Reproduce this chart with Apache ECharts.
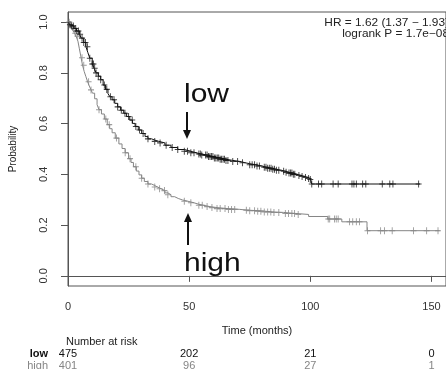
<!DOCTYPE html>
<html>
<head>
<meta charset="utf-8">
<script src="https://cdn.jsdelivr.net/npm/echarts@6/dist/echarts.min.js"></script>
<style>
html,body{margin:0;padding:0;background:#fff;}
#c{width:446px;height:369px;}
</style>
</head>
<body>
<div id="c"></div>
<script>
// ---- data ----
const lowTimes = [0,0.7,1.5,2.5,3.5,4.7,5.5,6.5,7.4,8.2,9,10,10.8,11.6,12.5,13.5,14.5,15.5,16.5,17.3,18.2,19.3,20.5,21.7,23,24.2,25.5,26.6,27.7,29,30.4,31.8,33,34.5,35.8,37.5,40,42.5,45.3,48,50.7,53,55,57.5,60.1,62.5,65,68,70.9,73,75,77.5,80,82,84.4,86,88,90,91.2,93,94.5,96,97.5,99,100,100.6,145.3];
const lowSurv  = [1.0,0.99,0.985,0.975,0.965,0.952,0.937,0.92,0.903,0.88,0.858,0.835,0.818,0.80,0.787,0.773,0.752,0.735,0.718,0.706,0.694,0.68,0.666,0.653,0.641,0.628,0.614,0.601,0.589,0.575,0.561,0.549,0.540,0.535,0.530,0.524,0.515,0.506,0.498,0.491,0.485,0.480,0.476,0.470,0.465,0.460,0.455,0.451,0.446,0.442,0.438,0.433,0.428,0.424,0.420,0.416,0.412,0.408,0.405,0.400,0.396,0.392,0.388,0.384,0.380,0.362,0.362];
const highTimes = [0,0.7,1.5,2.2,2.7,3.3,4.1,4.7,5.4,6,6.7,7.4,8.1,8.8,9.5,10.1,11,12,12.8,13.8,15,16.2,17.2,18.2,19.5,21,22.3,23.6,25,26,27,28.2,29.3,30.4,31.5,33,34.5,35.8,37,38.5,40,41.2,42.5,44,45.5,47.3,49.5,52,54,56,58.5,61.5,66,70.9,74,78,81,84.4,89,93.9,99.3,107.2,113,123.4,153.4];
const highSurv  = [1.0,0.99,0.978,0.965,0.956,0.945,0.925,0.895,0.86,0.83,0.805,0.785,0.765,0.748,0.733,0.72,0.698,0.675,0.655,0.638,0.618,0.596,0.58,0.564,0.543,0.52,0.502,0.485,0.462,0.447,0.43,0.413,0.398,0.385,0.372,0.362,0.356,0.350,0.343,0.336,0.327,0.320,0.312,0.305,0.299,0.294,0.288,0.282,0.278,0.273,0.269,0.265,0.262,0.259,0.257,0.255,0.252,0.250,0.246,0.242,0.234,0.224,0.213,0.178,0.178];
const lowCensor = [0.8,1.5,2.2,3,3.6,4.3,5,5.8,6.5,7.2,8,9,10,10.5,11,11.6,12.5,13.5,15,16,17.5,19,20.5,22,23.5,25,26.5,28,29.5,31,33,35.8,38,40.5,43,45.3,48,49.3,50.7,52,54,54.6,55.2,56.8,57.4,58,58.6,59.2,59.8,60.4,61,61.6,62.2,62.8,63.4,64,64.6,65.2,66,68,70,72,75,76,77,78,79,81,81.7,82.4,83.1,83.8,84.5,85.2,86,87,89,90,91.2,91.8,92.4,93,93.6,95.3,96.6,98,99.3,100,100.6,103.4,104.7,109.4,111.5,117.2,118,119,121.6,122.9,129.7,132.8,134.1,144.7];
const highCensor = [0.5,1.2,2,3,4,5.8,6.5,8.5,9.5,12.8,15.6,17,20,23.6,25.6,28,30.4,33,35.8,37.8,39.8,41.2,48,50.7,54,55.4,57.4,59.4,61.5,62.8,64.8,66.2,67.5,68.8,73.6,75,77,78.3,79.6,81,82.4,83.7,85,87,89.7,91,92.4,93.5,95,107.4,108,110,110.7,111.5,116.2,117.5,119,120.3,123.6,129,130.6,133.8,142.6,148,152.7];
const yTicks = [0,0.2,0.4,0.6,0.8,1.0];
const xTicks = [0,50,100,150];
const riskTimes = [0,50,100,150];
const riskLow = [475,202,21,0];
const riskHigh = [401,96,27,1];
const groupNames = ['low','high'];
const hrText = 'HR = 1.62 (1.37 \u2212 1.93)';
const pText = 'logrank P = 1.7e\u221208';

// ---- helpers ----
function pairs(t, s){ return t.map((v,i)=>[v, s[i]]); }
function survAt(t, times, surv){
  let v = surv[0];
  for (let i=0;i<times.length;i++){ if (times[i] <= t) v = surv[i]; else break; }
  return v;
}
const plusPath = 'path://M5,0L5,10M0,5L10,5';
const BLACK = '#111111', GREY = '#858585';

const chart = echarts.init(document.getElementById('c'), null, {renderer:'canvas'});
const option = {
  animation: false,
  backgroundColor: '#ffffff',
  grid: {left:65, top:12, width:385, height:274, show:true, borderColor:'#555', borderWidth:1, backgroundColor:'transparent'},
  xAxis: {
    type:'value', min:0, max:156,
    name:'Time (months)', nameLocation:'middle', nameGap:39,
    nameTextStyle:{fontFamily:'Liberation Sans', fontSize:11, color:'#222'},
    axisLine:{show:true, lineStyle:{color:'#555', width:1}},
    axisTick:{show:true, length:6, customValues:xTicks, lineStyle:{color:'#555'}},
    axisLabel:{customValues:xTicks, margin:15, fontFamily:'Liberation Sans', fontSize:11, color:'#333'},
    splitLine:{show:false}
  },
  yAxis: {
    type:'value', min:-0.04, max:1.04,
    name:'Probability', nameLocation:'middle', nameGap:50, nameRotate:90,
    nameTextStyle:{fontFamily:'Liberation Sans', fontSize:10, color:'#222'},
    axisLine:{show:true, lineStyle:{color:'#555', width:1}},
    axisTick:{show:true, length:7, customValues:yTicks, lineStyle:{color:'#555'}},
    axisLabel:{customValues:yTicks, rotate:90, margin:19, fontFamily:'Liberation Sans', fontSize:11, color:'#333',
      formatter:v=>Number(v).toFixed(1)},
    splitLine:{show:false}
  },
  series: [
    {type:'line', step:'end', data:pairs(highTimes, highSurv), symbol:'none', lineStyle:{color:GREY, width:1}, z:2},
    {type:'line', step:'end', data:pairs(lowTimes, lowSurv), symbol:'none', lineStyle:{color:BLACK, width:1}, z:3},
    {type:'scatter', data:highCensor.map(t=>[t, survAt(t, highTimes, highSurv)]), symbol:plusPath, symbolSize:[6,7],
      itemStyle:{color:'none', borderColor:GREY, borderWidth:1}, z:2},
    {type:'scatter', data:lowCensor.map(t=>[t, survAt(t, lowTimes, lowSurv)]), symbol:plusPath, symbolSize:[6,7],
      itemStyle:{color:'none', borderColor:BLACK, borderWidth:1}, z:3}
  ]
};
chart.setOption(option);

// annotations and risk table
const g = [];
g.push({type:'text', x:449, y:23, scaleX:1.13, style:{text:hrText, font:'10.5px "Liberation Sans"', fill:'#222', textAlign:'right', textVerticalAlign:'middle'}});
g.push({type:'text', x:449, y:34, scaleX:1.13, style:{text:pText, font:'10.5px "Liberation Sans"', fill:'#222', textAlign:'right', textVerticalAlign:'middle'}});
// low label + arrow
g.push({type:'text', left:184, top:83, style:{text:groupNames[0], font:'25px "Liberation Sans"', fill:'#111'}, scaleX:1.2});
g.push({type:'line', shape:{x1:187, y1:112, x2:187, y2:132}, style:{stroke:'#111', lineWidth:2}});
g.push({type:'polygon', shape:{points:[[183,130],[191,130],[187,139]]}, style:{fill:'#111'}});
// high label + arrow
g.push({type:'text', left:184, top:252, style:{text:groupNames[1], font:'25px "Liberation Sans"', fill:'#111'}, scaleX:1.2});
g.push({type:'line', shape:{x1:188, y1:221, x2:188, y2:245}, style:{stroke:'#111', lineWidth:2}});
g.push({type:'polygon', shape:{points:[[184,222],[192,222],[188,213]]}, style:{fill:'#111'}});
// risk table
g.push({type:'text', x:66, y:342, style:{text:'Number at risk', font:'11px "Liberation Sans"', fill:'#222', textAlign:'left', textVerticalAlign:'middle'}});
g.push({type:'text', x:48, y:354, style:{text:groupNames[0], font:'bold 11px "Liberation Sans"', fill:'#111', textAlign:'right', textVerticalAlign:'middle'}});
g.push({type:'text', x:48, y:366, style:{text:groupNames[1], font:'11px "Liberation Sans"', fill:GREY, textAlign:'right', textVerticalAlign:'middle'}});
riskTimes.forEach((t,i)=>{
  const px = chart.convertToPixel({xAxisIndex:0}, t);
  g.push({type:'text', x:px, y:354, style:{text:String(riskLow[i]), font:'11px "Liberation Sans"', fill:'#111', textAlign:'center', textVerticalAlign:'middle'}});
  g.push({type:'text', x:px, y:366, style:{text:String(riskHigh[i]), font:'11px "Liberation Sans"', fill:GREY, textAlign:'center', textVerticalAlign:'middle'}});
});
chart.setOption({graphic:g});
</script>
</body>
</html>
